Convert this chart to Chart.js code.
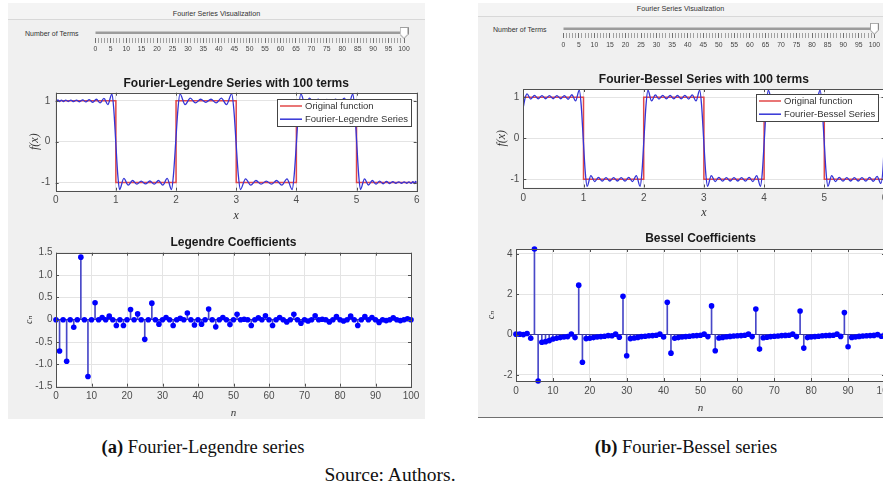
<!DOCTYPE html>
<html lang="en">
<head>
<meta charset="UTF-8">
<title>Fourier-Legendre and Fourier-Bessel series</title>
<style>
  * { margin: 0; padding: 0; box-sizing: border-box; }
  body { width: 883px; height: 486px; overflow: hidden; position: relative; background: #fff;
         font-family: "Liberation Sans", Arial, Helvetica, sans-serif; }
  .panel { position: absolute; background: #f0f0f0; }
  .strip { position: absolute; left: 0; right: 0; top: 0; text-align: center; font-size: 7.2px; color: #333;
           background: #f4f4f4; border-bottom: 1px solid #d8d8d8; white-space: nowrap; }
  .label { position: absolute; font-size: 7px; line-height: 8px; color: #333; white-space: nowrap; }
  canvas { position: absolute; }
  .caption { position: absolute; font-family: "Liberation Serif", "Times New Roman", serif; color: #111;
             white-space: nowrap; transform: translate(-50%, -50%); }
</style>
</head>
<body>
  <div class="panel" style="left:8px;top:3px;width:417px;height:416px">
    <div class="strip" style="height:17px;line-height:22px">Fourier Series Visualization</div>
  </div>
  <div class="panel" style="left:478px;top:3px;width:405px;height:415px;border-bottom:1px solid #707070">
    <div class="strip" style="height:14px;line-height:12.6px">Fourier Series Visualization</div>
  </div>
  <div class="label" style="left:25px;top:30px">Number of Terms</div>
  <div class="label" style="left:493px;top:26px">Number of Terms</div>

  <canvas id="sliderA" width="335" height="34" style="left:85px;top:22px"></canvas>
  <canvas id="sliderB" width="335" height="34" style="left:553px;top:18px"></canvas>
  <canvas id="legendreSeries" width="417" height="160" style="left:8px;top:66px"></canvas>
  <canvas id="legendreCoefs" width="417" height="192" style="left:8px;top:228px"></canvas>
  <canvas id="besselSeries" width="420" height="160" style="left:478px;top:62px"></canvas>
  <canvas id="besselCoefs" width="420" height="196" style="left:478px;top:226px"></canvas>

  <div class="caption" style="left:203px;top:447px;font-size:18.5px"><b>(a)</b> Fourier-Legendre series</div>
  <div class="caption" style="left:686px;top:447px;font-size:18.5px"><b>(b)</b> Fourier-Bessel series</div>
  <div class="caption" style="left:390px;top:475px;font-size:19.5px">Source: Authors.</div>

<script src="https://cdn.jsdelivr.net/npm/chart.js"></script>
<script>
// slider
const termCount = 100;
const sliderLabels = [0, 5, 10, 15, 20, 25, 30, 35, 40, 45, 50, 55, 60, 65, 70, 75, 80, 85, 90, 95, 100];

// original square wave, breakpoints
const squareX = [0, 1, 1, 2, 2, 3, 3, 4, 4, 5, 5, 6];
const squareY = [1, 1, -1, -1, 1, 1, -1, -1, 1, 1, -1, -1];

// Fourier-Legendre partial sum (peaks / troughs)
const legendreSeriesX = [
  0, 0.017, 0.037, 0.063, 0.094, 0.129, 0.167, 0.208, 0.252, 0.298, 0.346, 0.396, 0.448, 0.502, 0.558,
  0.616, 0.676, 0.738, 0.802, 0.867, 0.935, 0.965, 0.998, 1.031,
  1.061, 1.133, 1.205, 1.277, 1.349, 1.421, 1.493, 1.565, 1.637, 1.709, 1.781, 1.853, 1.925, 1.958, 1.995, 2.032,
  2.065, 2.151, 2.237, 2.323, 2.409, 2.495, 2.581, 2.667, 2.753, 2.839, 2.925, 2.96, 2.997, 3.034,
  3.07, 3.156, 3.242, 3.328, 3.414, 3.5, 3.586, 3.672, 3.758, 3.844, 3.93, 3.965, 4.002, 4.038,
  4.075, 4.147, 4.219, 4.291, 4.363, 4.435, 4.507, 4.579, 4.651, 4.723, 4.795, 4.867, 4.939, 4.969, 5.002, 5.035,
  5.065, 5.133, 5.198, 5.262, 5.324, 5.384, 5.442, 5.498, 5.552, 5.604, 5.654, 5.702, 5.748, 5.792, 5.833,
  5.871, 5.906, 5.937, 5.963, 5.983, 6
];
const legendreSeriesY = [
  1, 0.975, 1.025, 0.98, 1.02, 0.984, 1.017, 0.984, 1.018, 0.982, 1.02, 0.978, 1.025, 0.973, 1.03,
  0.965, 1.04, 0.95, 1.06, 0.91, 1.17, 0.8, 0, -0.8,
  -1.17, -0.9, -1.065, -0.95, -1.04, -0.965, -1.035, -0.962, -1.04, -0.95, -1.065, -0.9, -1.17, -0.8, 0, 0.8,
  1.17, 0.91, 1.065, 0.95, 1.04, 0.965, 1.04, 0.95, 1.065, 0.91, 1.17, 0.8, 0, -0.8,
  -1.17, -0.91, -1.065, -0.95, -1.04, -0.965, -1.04, -0.95, -1.065, -0.91, -1.17, -0.8, 0, 0.8,
  1.17, 0.9, 1.065, 0.95, 1.04, 0.962, 1.035, 0.965, 1.04, 0.95, 1.065, 0.9, 1.17, 0.8, 0, -0.8,
  -1.17, -0.91, -1.06, -0.95, -1.04, -0.965, -1.03, -0.973, -1.025, -0.978, -1.02, -0.982, -1.018, -0.984, -1.017,
  -0.984, -1.02, -0.98, -1.025, -0.975, -1
];

// Fourier-Bessel partial sum
const besselSeriesX = [
  0, 0.03, 0.062, 0.124, 0.186, 0.248, 0.31, 0.372, 0.434, 0.496, 0.558, 0.62, 0.682, 0.744, 0.806, 0.868, 0.93,
  0.962, 0.995, 1.028,
  1.06, 1.123, 1.186, 1.249, 1.311, 1.374, 1.437, 1.5, 1.563, 1.626, 1.689, 1.751, 1.814, 1.877, 1.94, 1.972, 2.005, 2.038,
  2.07, 2.131, 2.193, 2.254, 2.316, 2.377, 2.439, 2.5, 2.561, 2.623, 2.684, 2.746, 2.807, 2.869, 2.93, 2.962, 2.995, 3.028,
  3.06, 3.123, 3.186, 3.249, 3.311, 3.374, 3.437, 3.5, 3.563, 3.626, 3.689, 3.751, 3.814, 3.877, 3.94, 3.972, 4.005, 4.038,
  4.07, 4.131, 4.193, 4.254, 4.316, 4.377, 4.439, 4.5, 4.561, 4.623, 4.684, 4.746, 4.807, 4.869, 4.93, 4.962, 4.995, 5.028,
  5.06, 5.123, 5.186, 5.249, 5.311, 5.374, 5.437, 5.5, 5.563, 5.626, 5.689, 5.751, 5.814, 5.877, 5.94, 5.975, 6
];
const besselSeriesY = [
  0.76, 0.98, 1.08, 0.955, 1.045, 0.96, 1.04, 0.962, 1.038, 0.962, 1.038, 0.962, 1.04, 0.95, 1.06, 0.91, 1.17,
  0.8, 0, -0.8,
  -1.17, -0.91, -1.055, -0.955, -1.045, -0.96, -1.042, -0.96, -1.042, -0.96, -1.045, -0.955, -1.055, -0.91, -1.17, -0.8, 0, 0.8,
  1.17, 0.91, 1.055, 0.955, 1.045, 0.96, 1.042, 0.96, 1.042, 0.96, 1.045, 0.955, 1.055, 0.91, 1.17, 0.8, 0, -0.8,
  -1.17, -0.91, -1.055, -0.955, -1.045, -0.96, -1.042, -0.96, -1.042, -0.96, -1.045, -0.955, -1.055, -0.91, -1.17, -0.8, 0, 0.8,
  1.17, 0.91, 1.055, 0.955, 1.045, 0.96, 1.042, 0.96, 1.042, 0.96, 1.045, 0.955, 1.055, 0.91, 1.17, 0.8, 0, -0.8,
  -1.17, -0.91, -1.055, -0.955, -1.045, -0.96, -1.042, -0.96, -1.042, -0.96, -1.045, -0.955, -1.05, -0.93, -1.1, -0.75, 0
];

// coefficients c_n, n = 0..100
const legendreCoef = [
  0, -0.7, 0, -0.93, 0, -0.17, 0, 1.4, 0, -1.27,
  0, 0.38, 0, 0.05, 0, 0.08, 0, -0.13, 0, -0.13,
  0, 0.23, 0, 0.13, 0, -0.44, 0, 0.37, 0, -0.1,
  0, 0.05, 0, -0.13, 0, 0.03, 0, 0.15, 0, -0.12,
  0, -0.1, 0, 0.24, 0, -0.16, 0, 0.05, 0, -0.11,
  0, 0.12, 0, 0.01, 0, -0.13, 0, 0.04, 0, 0.09,
  0, -0.13, 0, 0.05, 0, -0.05, 0, 0.12, 0, -0.08,
  0, -0.03, 0, 0.09, 0, 0.01, 0, -0.05, 0, 0.07,
  0, -0.03, 0, 0.08, 0, -0.13, 0, 0.07, 0, 0.05,
  0, -0.06, 0, -0.02, 0, 0.04, 0, -0.02, 0, 0.02,
  0
];
const besselCoef = [
  0.02, 0.02, 0, 0.05, -0.18, 4.24, -2.3, -0.38, -0.35, -0.3,
  -0.22, -0.18, -0.15, -0.12, -0.1, 0.03, -0.15, 2.45, -1.37, -0.2,
  -0.18, -0.15, -0.12, -0.1, -0.08, -0.05, -0.06, 0.02, -0.13, 1.9,
  -1.05, -0.2, -0.17, -0.14, -0.1, -0.08, -0.06, -0.05, -0.03, 0.02,
  -0.12, 1.6, -0.92, -0.18, -0.15, -0.12, -0.1, -0.08, -0.06, -0.05,
  -0.03, 0.02, -0.1, 1.42, -0.8, -0.17, -0.14, -0.11, -0.09, -0.07,
  -0.06, -0.05, -0.03, 0.02, -0.1, 1.27, -0.72, -0.16, -0.13, -0.1,
  -0.08, -0.07, -0.05, -0.04, -0.03, 0.02, -0.1, 1.17, -0.67, -0.15,
  -0.12, -0.1, -0.08, -0.06, -0.05, -0.04, -0.03, 0.02, -0.09, 1.09,
  -0.6, -0.14, -0.12, -0.09, -0.07, -0.06, -0.05, -0.04, 0, -0.08,
  0
];

const sans = '"Liberation Sans", Arial, Helvetica, sans-serif';
const serif = '"Liberation Serif", "DejaVu Serif", "Times New Roman", serif';
const RED = 'rgb(226, 72, 72)';
const BLUE = 'rgb(52, 52, 214)';
const GRID = '#e4e4e4';
const TICK = '#4d4d4d';

function pointsOf(xs, ys) {
  return xs.map((x, i) => ({ x: x, y: ys[i] }));
}

// white plot area, box with inward ticks
const framePlugin = {
  id: 'frame',
  beforeDraw(chart) {
    const { ctx, chartArea: a } = chart;
    ctx.save();
    ctx.fillStyle = '#fff';
    ctx.fillRect(a.left, a.top, a.width, a.height);
    ctx.restore();
  },
  afterDraw(chart) {
    const { ctx, chartArea: a, scales } = chart;
    ctx.save();
    ctx.strokeStyle = '#505050';
    ctx.lineWidth = 1;
    ctx.beginPath();
    scales.x.ticks.forEach(t => {
      const p = Math.round(scales.x.getPixelForValue(t.value)) + 0.5;
      ctx.moveTo(p, a.top); ctx.lineTo(p, a.top + 3);
      ctx.moveTo(p, a.bottom); ctx.lineTo(p, a.bottom - 3);
    });
    scales.y.ticks.forEach(t => {
      const p = Math.round(scales.y.getPixelForValue(t.value)) + 0.5;
      ctx.moveTo(a.left, p); ctx.lineTo(a.left + 3, p);
      ctx.moveTo(a.right, p); ctx.lineTo(a.right - 3, p);
    });
    ctx.stroke();
    ctx.strokeRect(Math.round(a.left) + 0.5, Math.round(a.top) + 0.5, Math.round(a.width), Math.round(a.height));
    ctx.restore();
  }
};

// MATLAB-like legend box in the upper right corner of the axes
const boxLegend = {
  id: 'boxLegend',
  afterDraw(chart, args, opts) {
    if (!opts.show) return;
    const { ctx, chartArea: a } = chart;
    const sets = chart.data.datasets;
    ctx.save();
    ctx.font = '9.5px ' + sans;
    const textW = Math.max(...sets.map(d => ctx.measureText(d.label).width));
    const w = Math.round(textW + 31), h = 27;
    const x0 = Math.round(a.right - opts.right - w), y0 = Math.round(a.top + opts.top);
    ctx.fillStyle = '#fff';
    ctx.fillRect(x0, y0, w, h);
    ctx.strokeStyle = '#444';
    ctx.lineWidth = 1;
    ctx.strokeRect(x0 + 0.5, y0 + 0.5, w, h);
    sets.forEach((d, i) => {
      const yy = y0 + 7 + i * 13.2;
      ctx.strokeStyle = d.borderColor;
      ctx.lineWidth = 1.5;
      ctx.beginPath(); ctx.moveTo(x0 + 3, yy); ctx.lineTo(x0 + 25, yy); ctx.stroke();
      ctx.fillStyle = '#333';
      ctx.textBaseline = 'middle';
      ctx.fillText(d.label, x0 + 28, yy);
    });
    ctx.restore();
  }
};

function axesOptions(c) {
  return {
    responsive: false,
    animation: false,
    events: [],
    layout: { padding: { left: 0, top: 0, right: c.padRight, bottom: 0 } },
    plugins: {
      legend: { display: false },
      tooltip: { enabled: false },
      title: {
        display: true, text: c.title, fullSize: false, color: '#1a1a1a',
        font: { family: sans, size: 12, weight: 'bold' },
        padding: { top: c.titleTop, bottom: c.titleBottom }
      },
      boxLegend: c.legend || { show: false }
    },
    scales: {
      x: {
        type: 'linear', min: c.xMin, max: c.xMax, offset: false,
        afterFit: s => { s.height = c.xHeight; },
        border: { display: false },
        grid: { color: GRID, drawTicks: false, offset: false },
        ticks: { stepSize: c.xStep, padding: c.xTickPad, color: TICK, maxRotation: 0, autoSkip: false,
                 includeBounds: false, font: { family: sans, size: 10 } },
        title: { display: true, text: c.xTitle, color: '#333',
                 font: { family: serif, style: 'italic', size: c.xTitleSize },
                 padding: { top: 0, bottom: c.xTitleBottom } }
      },
      y: {
        type: 'linear', min: c.yMin, max: c.yMax,
        afterFit: s => { s.width = c.yWidth; },
        border: { display: false },
        grid: {
          drawTicks: false,
          color: ctx => (c.baseline && ctx.tick && ctx.tick.value === 0) ? '#3c3c90' : GRID
        },
        ticks: { stepSize: c.yStep, padding: c.yTickPad, color: TICK, autoSkip: false, includeBounds: false,
                 font: { family: sans, size: 10 } },
        title: { display: true, text: c.yTitle, color: '#333',
                 font: { family: serif, style: 'italic', size: c.yTitleSize },
                 padding: { top: c.yTitleTop, bottom: 0 } }
      }
    }
  };
}

function seriesChart(id, seriesLabel, xs, ys, c) {
  return new Chart(document.getElementById(id), {
    type: 'scatter',
    data: {
      datasets: [
        { type: 'line', label: 'Original function', data: pointsOf(squareX, squareY),
          borderColor: RED, borderWidth: 1.5, pointRadius: 0, order: 2 },
        { type: 'line', label: seriesLabel, data: pointsOf(xs, ys),
          borderColor: BLUE, borderWidth: 1.3, pointRadius: 0, cubicInterpolationMode: 'monotone', order: 1 }
      ]
    },
    options: axesOptions(c),
    plugins: [framePlugin, boxLegend]
  });
}

function stemChart(id, coef, c) {
  const pts = coef.map((v, n) => ({ x: n, y: v }));
  return new Chart(document.getElementById(id), {
    type: 'scatter',
    data: {
      datasets: [
        { type: 'bar', label: 'stems', data: pts, backgroundColor: 'rgb(72, 72, 200)',
          barThickness: 1, order: 2 },
        { label: 'c_n', data: pts, backgroundColor: 'rgb(0, 0, 255)', borderWidth: 0,
          pointRadius: 2.8, clip: false, order: 1 }
      ]
    },
    options: axesOptions(c),
    plugins: [framePlugin]
  });
}

// thumb of the slider
const thumb = document.createElement('canvas');
thumb.width = 9; thumb.height = 12;
(() => {
  const t = thumb.getContext('2d');
  t.fillStyle = '#fff'; t.strokeStyle = '#8a8a8a'; t.lineWidth = 1;
  t.beginPath();
  t.moveTo(0.5, 0.5); t.lineTo(8.5, 0.5); t.lineTo(8.5, 7.5); t.lineTo(4.5, 11.5); t.lineTo(0.5, 7.5);
  t.closePath(); t.fill(); t.stroke();
})();

function sliderChart(id, c) {
  return new Chart(document.getElementById(id), {
    type: 'scatter',
    data: {
      datasets: [
        { type: 'line', data: [{ x: 0, y: 0 }, { x: 100, y: 0 }], borderColor: '#9c9c9c', borderWidth: 2.5,
          pointRadius: 0, order: 2 },
        { data: [{ x: termCount, y: 0 }], pointStyle: thumb, pointRadius: 5, clip: false, order: 1 }
      ]
    },
    options: {
      responsive: false, animation: false, events: [],
      layout: { padding: { left: c.padLeft, right: c.padRight, top: 2, bottom: 0 } },
      plugins: { legend: { display: false }, tooltip: { enabled: false } },
      scales: {
        x: {
          type: 'linear', min: 0, max: 100,
          afterFit: s => { s.height = c.axisHeight; },
          border: { display: false },
          grid: { drawOnChartArea: false, drawTicks: true, tickLength: 5, tickWidth: 1,
                  tickColor: ctx => (ctx.tick && ctx.tick.value % 5 === 0) ? '#707070' : '#a0a0a0' },
          ticks: { stepSize: 1, autoSkip: false, maxRotation: 0, padding: c.tickPad, color: '#444',
                   font: { family: sans, size: 6.8 },
                   callback: v => sliderLabels.includes(v) ? String(v) : '' }
        },
        y: { display: false, min: -1, max: c.yMax }
      }
    }
  });
}

sliderChart('sliderA', { padLeft: 10.3, padRight: 16, axisHeight: 18, tickPad: 2.2, yMax: 0.92 });
sliderChart('sliderB', { padLeft: 10.3, padRight: 13.7, axisHeight: 19, tickPad: 2.9, yMax: 1.06 });

seriesChart('legendreSeries', 'Fourier-Legendre Series', legendreSeriesX, legendreSeriesY, {
  title: 'Fourier-Legendre Series with 100 terms', padRight: 8.3, titleTop: 10.8, titleBottom: 1.5,
  xMin: 0, xMax: 6, xStep: 1, xHeight: 35.3, xTickPad: 4, xTitle: 'x', xTitleSize: 12, xTitleBottom: 3.1,
  yMin: -1.2, yMax: 1.2, yStep: 1, yWidth: 47.7, yTickPad: 5.5, yTitle: 'f(x)', yTitleSize: 12, yTitleTop: 19.8,
  legend: { show: true, right: 6, top: 6.6 }
});

stemChart('legendreCoefs', legendreCoef, {
  title: 'Legendre Coefficients', padRight: 14, titleTop: 7.5, titleBottom: 2.8,
  xMin: 0, xMax: 100, xStep: 10, xHeight: 33.3, xTickPad: 4, xTitle: 'n', xTitleSize: 11, xTitleBottom: 0.7,
  yMin: -1.5, yMax: 1.5, yStep: 0.5, yWidth: 48, yTickPad: 3.5, yTitle: 'c\u2099', yTitleSize: 10, yTitleTop: 15,
  baseline: true
});

seriesChart('besselSeries', 'Fourier-Bessel Series', besselSeriesX, besselSeriesY, {
  title: 'Fourier-Bessel Series with 100 terms', padRight: 13.5, titleTop: 10.1, titleBottom: 2.5,
  xMin: 0, xMax: 6, xStep: 1, xHeight: 34.5, xTickPad: 4.8, xTitle: 'x', xTitleSize: 12, xTitleBottom: 2.1,
  yMin: -1.2, yMax: 1.2, yStep: 1, yWidth: 45.3, yTickPad: 4, yTitle: 'f(x)', yTitleSize: 12, yTitleTop: 16.5,
  legend: { show: true, right: 6.5, top: 5.3 }
});

stemChart('besselCoefs', besselCoef, {
  title: 'Bessel Coefficients', padRight: 11, titleTop: 5.1, titleBottom: 3.5,
  xMin: 0, xMax: 100, xStep: 10, xHeight: 41, xTickPad: 4.7, xTitle: 'n', xTitleSize: 11, xTitleBottom: 7.1,
  yMin: -2.3, yMax: 4.24, yStep: 2, yWidth: 38, yTickPad: 3.5, yTitle: 'c\u2099', yTitleSize: 10, yTitleTop: 7.7,
  baseline: true
});
</script>
</body>
</html>
